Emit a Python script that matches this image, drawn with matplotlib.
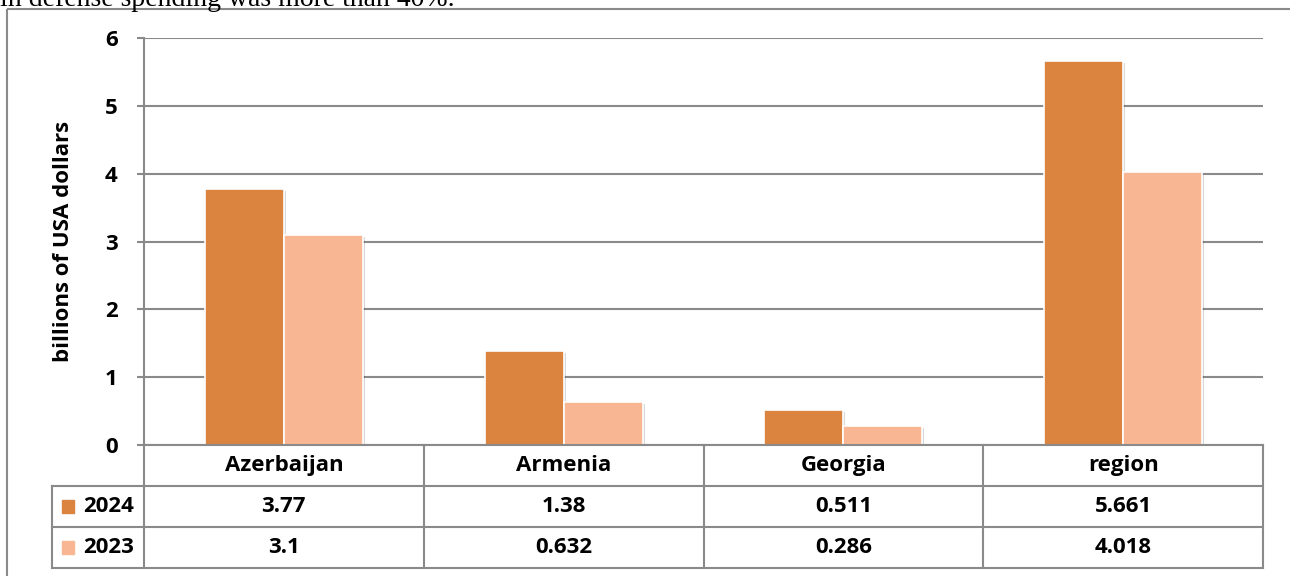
import numpy as np
import matplotlib.pyplot as plt
import matplotlib.patheffects as pe
from matplotlib.patches import Rectangle

plt.rcParams['font.family'] = ['Open Sans', 'DejaVu Sans']

countries = ['Azerbaijan', 'Armenia', 'Georgia', 'region']
years = ['2024', '2023']
spend_2024 = [3.77, 1.38, 0.511, 5.661]
spend_2023 = [3.1, 0.632, 0.286, 4.018]
labels_2024 = ['3.77', '1.38', '0.511', '5.661']
labels_2023 = ['3.1', '0.632', '0.286', '4.018']
colors = ['#DA843F', '#F8B692']

W, H = 1290, 576
fig = plt.figure(figsize=(W / 100, H / 100), dpi=100)

def frac(x0, y0, x1, y1):
    # pixel box (top-left origin) -> figure fraction rect
    return [x0 / W, 1 - y1 / H, (x1 - x0) / W, (y1 - y0) / H]

# page overlay: caption line and outer frame
page = fig.add_axes([0, 0, 1, 1])
page.set_xlim(0, W)
page.set_ylim(H, 0)
page.axis('off')
page.text(0, 6, 'in defense spending was more than 40%.', family='Liberation Serif',
          fontsize=20, va='baseline', ha='left', color='black')
page.add_patch(Rectangle((7, 9), W + 20, H, fill=False, edgecolor='#8a8a8a', lw=1.5))

# bar chart
ax = fig.add_axes(frac(144, 38, 1263, 445))
x = np.arange(len(countries))
bw = 0.282
shadow = [pe.SimplePatchShadow(offset=(1.5, -1.5), alpha=0.15, shadow_rgbFace='black'), pe.Normal()]
b1 = ax.bar(x - bw / 2, spend_2024, bw, color=colors[0], edgecolor='white', lw=1.2, zorder=3)
b2 = ax.bar(x + bw / 2, spend_2023, bw, color=colors[1], edgecolor='white', lw=1.2, zorder=3)
for b in list(b1) + list(b2):
    b.set_path_effects(shadow)

fs = 16
ax.set_xlim(-0.5, len(countries) - 0.5)
ax.set_ylim(0, 6)
ax.set_yticks(range(7))
ax.yaxis.grid(True, color='#8a8a8a', lw=1.5)
ax.set_axisbelow(True)
ax.set_xticks([])
for s in ['top', 'right', 'bottom']:
    ax.spines[s].set_visible(False)
ax.spines['left'].set_color('#8a8a8a')
ax.spines['left'].set_linewidth(1.5)
ax.tick_params(axis='y', length=5, width=1.5, color='#8a8a8a', pad=14, labelsize=fs)
for t in ax.get_yticklabels():
    t.set_fontweight('bold')
ax.set_ylabel('billions of USA dollars', fontsize=fs, fontweight='bold', labelpad=22)

# data table under the bars, sharing the category scale
tab = fig.add_axes(frac(144, 445, 1263, 568))
tab.set_xlim(-0.5, len(countries) - 0.5)
tab.set_ylim(3, 0)
tab.axis('off')
gray = '#8a8a8a'
left = -0.5 - (144 - 52) / 1119 * len(countries)
kw = dict(color=gray, lw=1.5, clip_on=False)
tab.plot([-0.5, 3.5], [0, 0], **kw)
for r in (1, 2, 3):
    tab.plot([left, 3.5], [r, r], **kw)
tab.plot([left, left], [1, 3], **kw)
for c in np.arange(-0.5, 4, 1):
    tab.plot([c, c], [0, 3], **kw)

for i, name in enumerate(countries):
    tab.text(i, 0.5, name, ha='center', va='center', fontsize=fs, fontweight='bold')
    tab.text(i, 1.5, labels_2024[i], ha='center', va='center', fontsize=fs, fontweight='bold')
    tab.text(i, 2.5, labels_2023[i], ha='center', va='center', fontsize=fs, fontweight='bold')

# legend keys in the first column
for r, (yr, col) in enumerate(zip(years, colors)):
    yc = 1.5 + r
    tab.add_patch(Rectangle((left + 0.035, yc - 0.16), 0.045, 0.32, color=col, clip_on=False))
    tab.text(left + 0.11, yc, yr, ha='left', va='center', fontsize=fs, fontweight='bold',
             clip_on=False)

fig.savefig('out.png', dpi=100)
